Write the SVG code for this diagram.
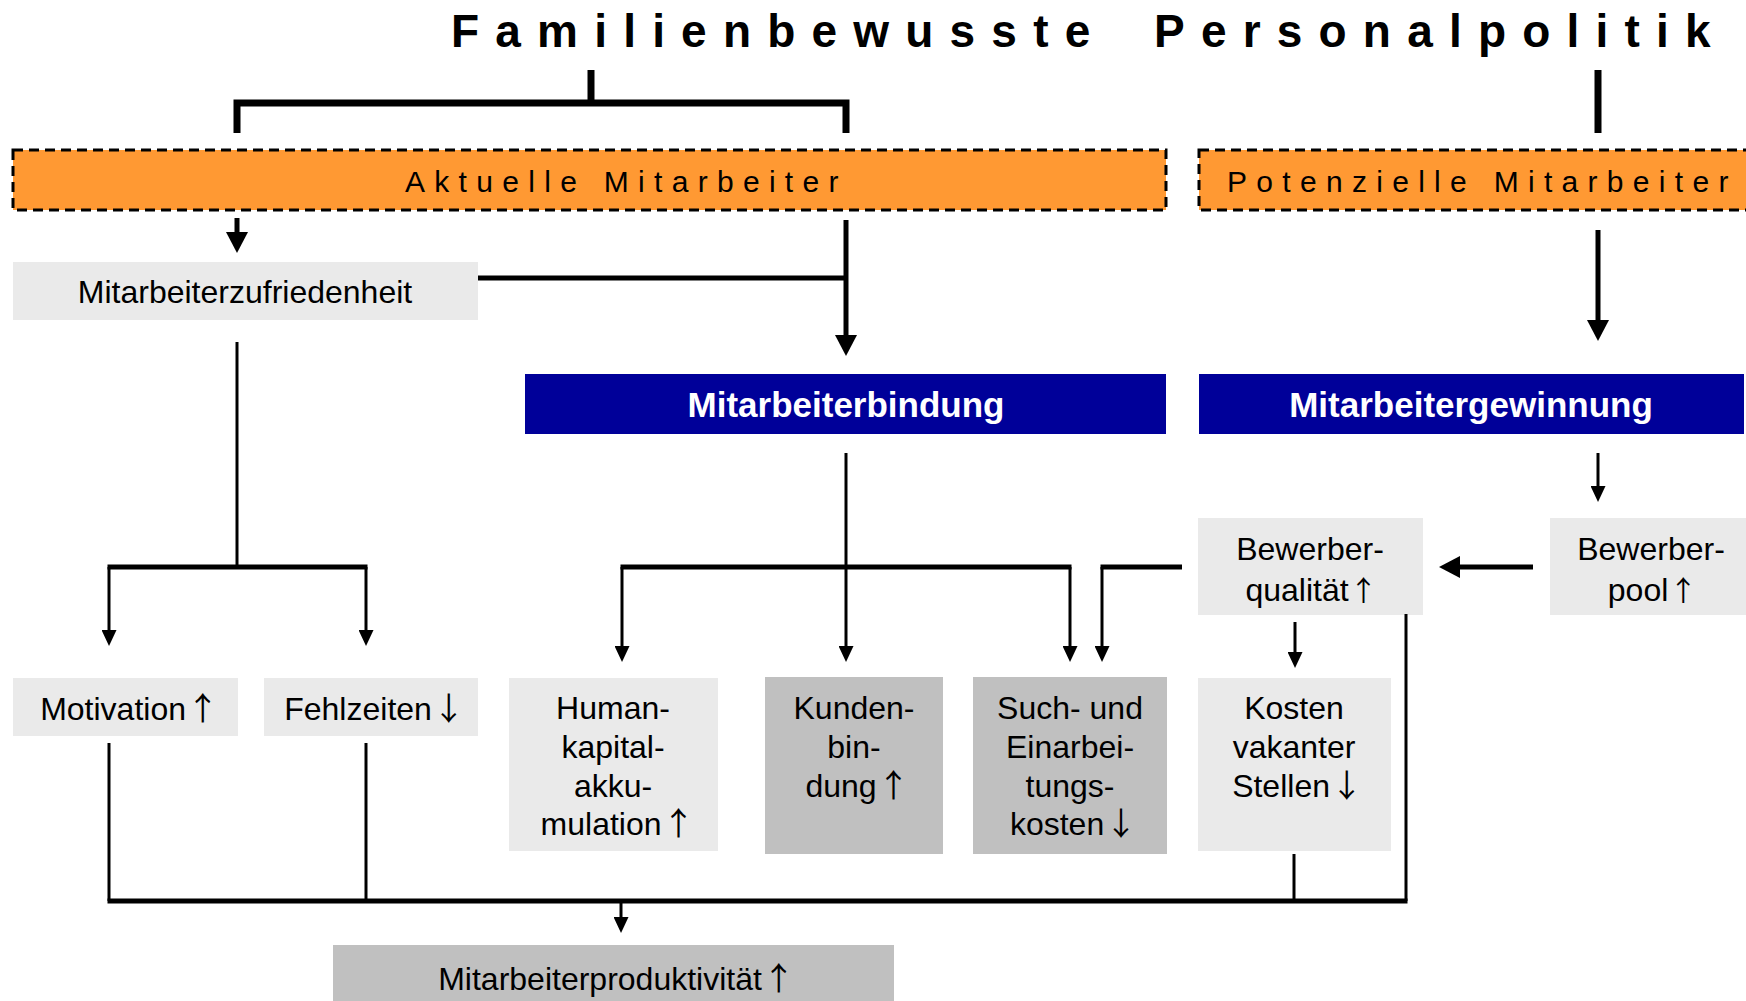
<svg xmlns="http://www.w3.org/2000/svg" width="1746" height="1001" viewBox="0 0 1746 1001">
<style>
text{font-family:"Liberation Sans",Arial,"DejaVu Sans",sans-serif;fill:#000}
.t{font-size:32px;text-anchor:middle}
.ar{font-family:"Noto Sans CJK JP","Noto Sans CJK SC","DejaVu Sans",sans-serif;font-size:32px}
.ar2{font-family:"Noto Sans CJK JP","Noto Sans CJK SC","DejaVu Sans",sans-serif;font-size:28px}
.s{letter-spacing:-8px}
.hd{font-size:35px;font-weight:bold;fill:#fff;text-anchor:middle}
.sp{font-size:30px;letter-spacing:9.3px}
.ttl{font-size:46px;font-weight:bold;letter-spacing:16.2px}
.lg{fill:#EAEAEA}
.dg{fill:#C0C0C0}
.bl{fill:#000099}
.or{fill:#FF9933;stroke:#000;stroke-width:3;stroke-dasharray:10 6}
.c{fill:none;stroke:#000}
.k{stroke-width:5}
.n{stroke-width:3}
.b{stroke-width:7}
.ab{marker-end:url(#big)}
.as{marker-end:url(#small)}
</style>
<defs>
<marker id="big" viewBox="0 0 21 22" refX="0" refY="11" markerWidth="21" markerHeight="22" markerUnits="userSpaceOnUse" orient="auto"><path d="M0,0 L21,11 L0,22 z" fill="#000"/></marker>
<marker id="small" viewBox="0 0 16 15" refX="0" refY="7.5" markerWidth="16" markerHeight="15" markerUnits="userSpaceOnUse" orient="auto"><path d="M0,0 L16,7.5 L0,15 z" fill="#000"/></marker>
</defs>
<rect width="1746" height="1001" fill="#fff"/>
<g id="title"><text class="ttl" y="47"><tspan x="451">Familienbewusste</tspan><tspan x="1154">Personalpolitik</tspan></text></g>
<g id="aktuelle"><rect class="or" x="13" y="150" width="1153" height="60"/><text class="sp" x="405" y="192">Aktuelle Mitarbeiter</text></g>
<g id="potenzielle"><rect class="or" x="1199" y="150" width="560" height="60"/><text class="sp" x="1227" y="192">Potenzielle Mitarbeiter</text></g>
<g id="zufriedenheit"><rect class="lg" x="13" y="262" width="465" height="58"/><text class="t" x="245" y="303">Mitarbeiterzufriedenheit</text></g>
<g id="bindung"><rect class="bl" x="525" y="374" width="641" height="60"/><text class="hd" x="846" y="417">Mitarbeiterbindung</text></g>
<g id="gewinnung"><rect class="bl" x="1199" y="374" width="545" height="60"/><text class="hd" x="1471" y="417">Mitarbeitergewinnung</text></g>
<g id="bewerberqualitaet"><rect class="lg" x="1198" y="518" width="225" height="97"/><text class="t" x="1310" y="560">Bewerber-</text><text class="t" x="1311.5" y="601">qualität<tspan class="s"> </tspan><tspan class="ar2">↑</tspan></text></g>
<g id="bewerberpool"><rect class="lg" x="1550" y="518" width="196" height="97"/><text class="t" x="1651" y="560">Bewerber-</text><text class="t" x="1652.5" y="601">pool<tspan class="s"> </tspan><tspan class="ar2">↑</tspan></text></g>
<g id="motivation"><rect class="lg" x="13" y="678" width="225" height="58"/><text class="t" x="129.5" y="720">Motivation<tspan class="s"> </tspan><tspan class="ar">↑</tspan></text></g>
<g id="fehlzeiten"><rect class="lg" x="264" y="678" width="214" height="58"/><text class="t" x="374.5" y="720">Fehlzeiten<tspan class="s"> </tspan><tspan class="ar">↓</tspan></text></g>
<g id="humankapital"><rect class="lg" x="509" y="678" width="209" height="173"/><text class="t" x="613" y="719">Human-</text><text class="t" x="613" y="758">kapital-</text><text class="t" x="613" y="796.5">akku-</text><text class="t" x="617.5" y="835">mulation<tspan class="s"> </tspan><tspan class="ar">↑</tspan></text></g>
<g id="kundenbindung"><rect class="dg" x="765" y="677" width="178" height="177"/><text class="t" x="854" y="719">Kunden-</text><text class="t" x="854" y="758">bin-</text><text class="t" x="857.5" y="796.5">dung<tspan class="s"> </tspan><tspan class="ar">↑</tspan></text></g>
<g id="suchkosten"><rect class="dg" x="973" y="677" width="194" height="177"/><text class="t" x="1070" y="719">Such- und</text><text class="t" x="1070" y="758">Einarbei-</text><text class="t" x="1070" y="796.5">tungs-</text><text class="t" x="1073.5" y="835">kosten<tspan class="s"> </tspan><tspan class="ar">↓</tspan></text></g>
<g id="vakanz"><rect class="lg" x="1198" y="678" width="193" height="173"/><text class="t" x="1294" y="719">Kosten</text><text class="t" x="1294" y="758">vakanter</text><text class="t" x="1297.5" y="796.5">Stellen<tspan class="s"> </tspan><tspan class="ar">↓</tspan></text></g>
<g id="produktivitaet"><rect class="dg" x="333" y="945" width="561" height="56"/><text class="t" x="616.5" y="990">Mitarbeiterproduktivität<tspan class="s"> </tspan><tspan class="ar">↑</tspan></text></g>
<g id="connectors">
<path class="c b" d="M591,70 V103"/>
<path class="c b" d="M237,133 V103 H846 V133"/>
<path class="c b" d="M1598,70 V133"/>
<path class="c k ab" d="M237,218 V232"/>
<path class="c k" d="M478,278 H846"/>
<path class="c k ab" d="M846,220 V335"/>
<path class="c k ab" d="M1598,230 V320"/>
<path class="c n" d="M237,342 V567"/>
<path class="c k" d="M107.5,567 H367.5"/>
<path class="c n as" d="M109,567 V630"/>
<path class="c n as" d="M366,567 V630"/>
<path class="c n as" d="M846,453 V646"/>
<path class="c k" d="M620.5,567 H1071.5"/>
<path class="c n as" d="M622,567 V646"/>
<path class="c n as" d="M1070,567 V646"/>
<path class="c k" d="M1182,567 H1100.5"/>
<path class="c n as" d="M1102,567 V646"/>
<path class="c k ab" d="M1533,567 H1460"/>
<path class="c n as" d="M1598,453 V486"/>
<path class="c n as" d="M1295,622 V652"/>
<path class="c n" d="M1406,614 V901"/>
<path class="c n" d="M109,743 V901"/>
<path class="c n" d="M366,743 V901"/>
<path class="c n" d="M1294,854 V901"/>
<path class="c k" d="M107.5,901 H1407.5"/>
<path class="c n as" d="M621,901 V917"/>
</g>
</svg>
